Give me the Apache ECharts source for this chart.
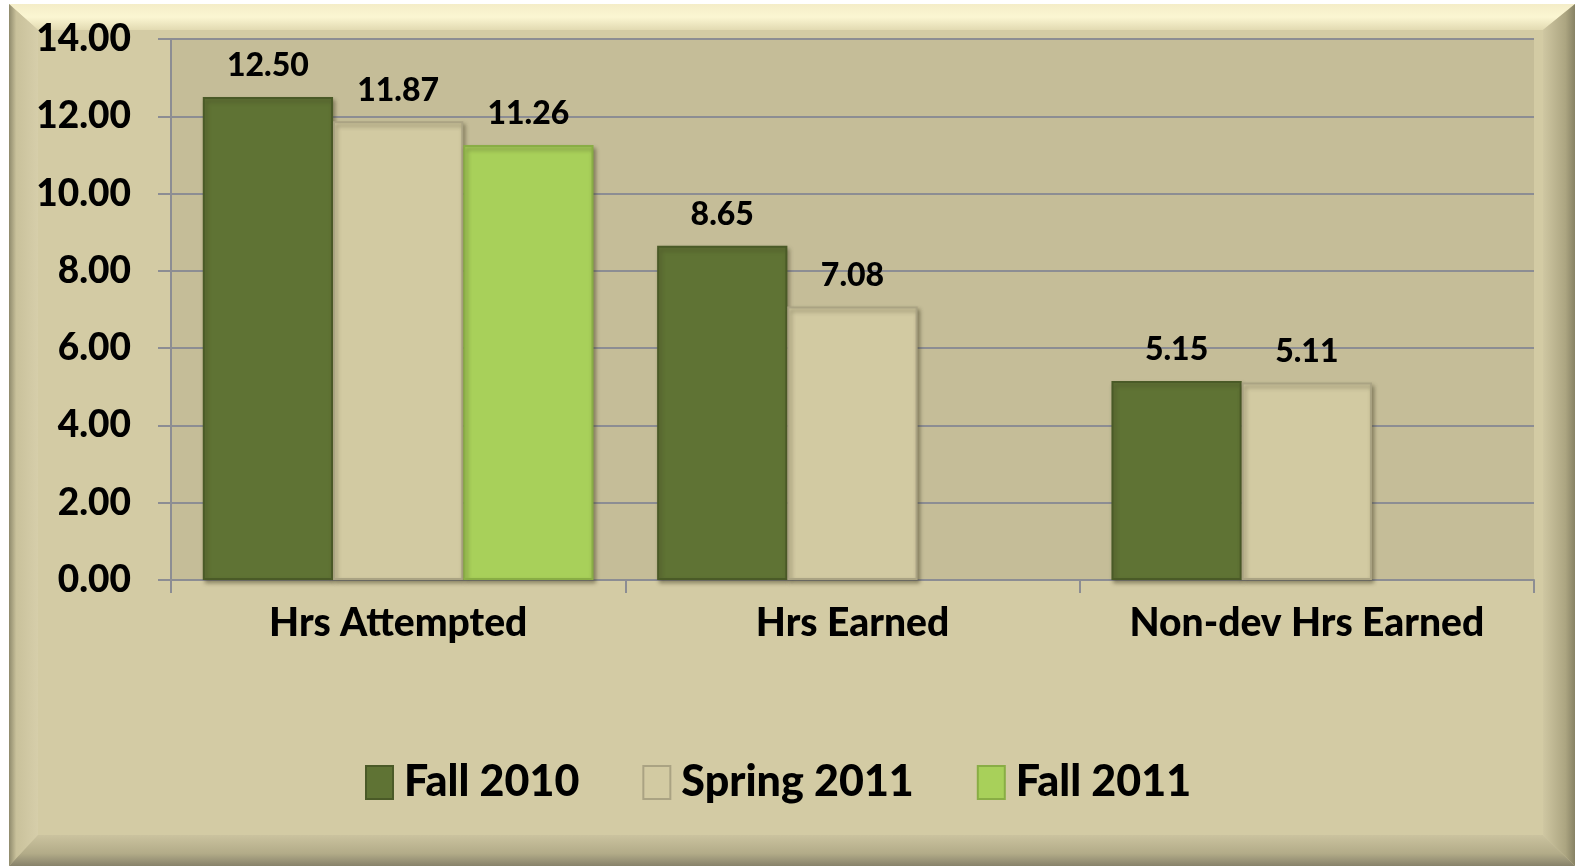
<!DOCTYPE html>
<html>
<head>
<meta charset="utf-8">
<script src="https://cdn.jsdelivr.net/npm/echarts@6/dist/echarts.min.js"></script>
<style>
  html, body { margin: 0; padding: 0; background: #fff; }
  #chart { width: 1575px; height: 866px; }
</style>
</head>
<body>
<div id="chart"></div>
<script>
  const categories = ['Hrs Attempted', 'Hrs Earned', 'Non-dev Hrs Earned']
  const fall2010 = [12.50, 8.65, 5.15]
  const spring2011 = [11.87, 7.08, 5.11]
  const fall2011 = [11.26, null, null]
  const seriesNames = ['Fall 2010', 'Spring 2011', 'Fall 2011']

  const font = 'Lato'
  const weight = 900
  const W = 1575, H = 866
  const lineColor = '#8c8d93'

  const myChart = echarts.init(document.getElementById('chart'))

  const label = {
    show: true,
    position: 'top',
    distance: 15,
    fontFamily: font,
    fontWeight: weight,
    fontSize: 32,
    color: '#000',
    formatter: p => p.value == null ? '' : p.value.toFixed(2)
  }

  function bar(name, data, color, border) {
    return {
      name,
      type: 'bar',
      data,
      barGap: '0%',
      barCategoryGap: '14%',
      label,
      itemStyle: {
        color,
        borderColor: border,
        borderWidth: 2,
        shadowColor: 'rgba(60,55,30,0.45)',
        shadowBlur: 4,
        shadowOffsetX: 2,
        shadowOffsetY: 3
      }
    }
  }

  const option = {
    backgroundColor: '#fff',
    animation: false,
    graphic: [
      // frame face
      { type: 'rect', z: -10, shape: { x: 9, y: 4, width: W - 9, height: H - 4 }, style: { fill: '#d3cba4' } },
      // top bevel
      { type: 'polygon', z: -9, shape: { points: [[9, 4], [W, 4], [1543, 30], [38, 30]] },
        style: { fill: new echarts.graphic.LinearGradient(0, 0, 0, 1, [{ offset: 0, color: '#f4edc8' }, { offset: 0.5, color: '#fbf6d2' }, { offset: 1, color: '#e2dab2' }]) } },
      // left bevel
      { type: 'polygon', z: -9, shape: { points: [[9, 4], [38, 30], [38, 835], [9, H]] },
        style: { fill: new echarts.graphic.LinearGradient(0, 0, 1, 0, [{ offset: 0, color: '#8f8a6c' }, { offset: 0.25, color: '#c9c19b' }, { offset: 1, color: '#d6ceaa' }]) } },
      // right bevel
      { type: 'polygon', z: -9, shape: { points: [[W, 4], [W, H], [1543, 835], [1543, 30]] },
        style: { fill: new echarts.graphic.LinearGradient(0, 0, 1, 0, [{ offset: 0, color: '#cfc7a2' }, { offset: 0.7, color: '#aca581' }, { offset: 1, color: '#878264' }]) } },
      // bottom bevel
      { type: 'polygon', z: -9, shape: { points: [[38, 835], [1543, 835], [W, H], [9, H]] },
        style: { fill: new echarts.graphic.LinearGradient(0, 0, 0, 1, [{ offset: 0, color: '#cbc39f' }, { offset: 0.6, color: '#b2ab88' }, { offset: 1, color: '#87826a' }]) } }
    ],
    grid: {
      left: 171,
      right: 41,
      top: 39,
      bottom: 286,
      show: true,
      backgroundColor: '#c5bd98',
      borderWidth: 0
    },
    legend: {
      data: seriesNames,
      left: 360,
      top: 756,
      itemWidth: 27,
      itemHeight: 33,
      itemGap: 63,
      icon: 'rect',
      textStyle: {
        fontFamily: font,
        fontWeight: weight,
        fontSize: 43,
        color: '#000',
        padding: [0, 0, 0, 6]
      }
    },
    xAxis: {
      type: 'category',
      data: categories,
      axisLine: { show: true, lineStyle: { color: lineColor, width: 2 } },
      axisTick: { show: true, interval: 0, length: 13, lineStyle: { color: lineColor, width: 2 } },
      axisLabel: {
        interval: 0,
        hideOverlap: false,
        margin: 24,
        fontFamily: font,
        fontWeight: weight,
        fontSize: 39,
        color: '#000'
      }
    },
    yAxis: {
      type: 'value',
      min: 0,
      max: 14,
      interval: 2,
      axisLine: { show: true, lineStyle: { color: lineColor, width: 2 } },
      axisTick: { show: true, length: 13, lineStyle: { color: lineColor, width: 2 } },
      splitLine: { show: true, lineStyle: { color: lineColor, width: 2 } },
      axisLabel: {
        margin: 40,
        fontFamily: font,
        fontWeight: weight,
        fontSize: 37,
        color: '#000',
        formatter: v => v.toFixed(2)
      }
    },
    series: [
      bar(seriesNames[0], fall2010, '#5f7334', '#4a5a27'),
      bar(seriesNames[1], spring2011, '#d2caa2', '#aaa383'),
      bar(seriesNames[2], fall2011, '#a8d05a', '#89ad45')
    ]
  }

  myChart.setOption(option)
</script>
</body>
</html>
